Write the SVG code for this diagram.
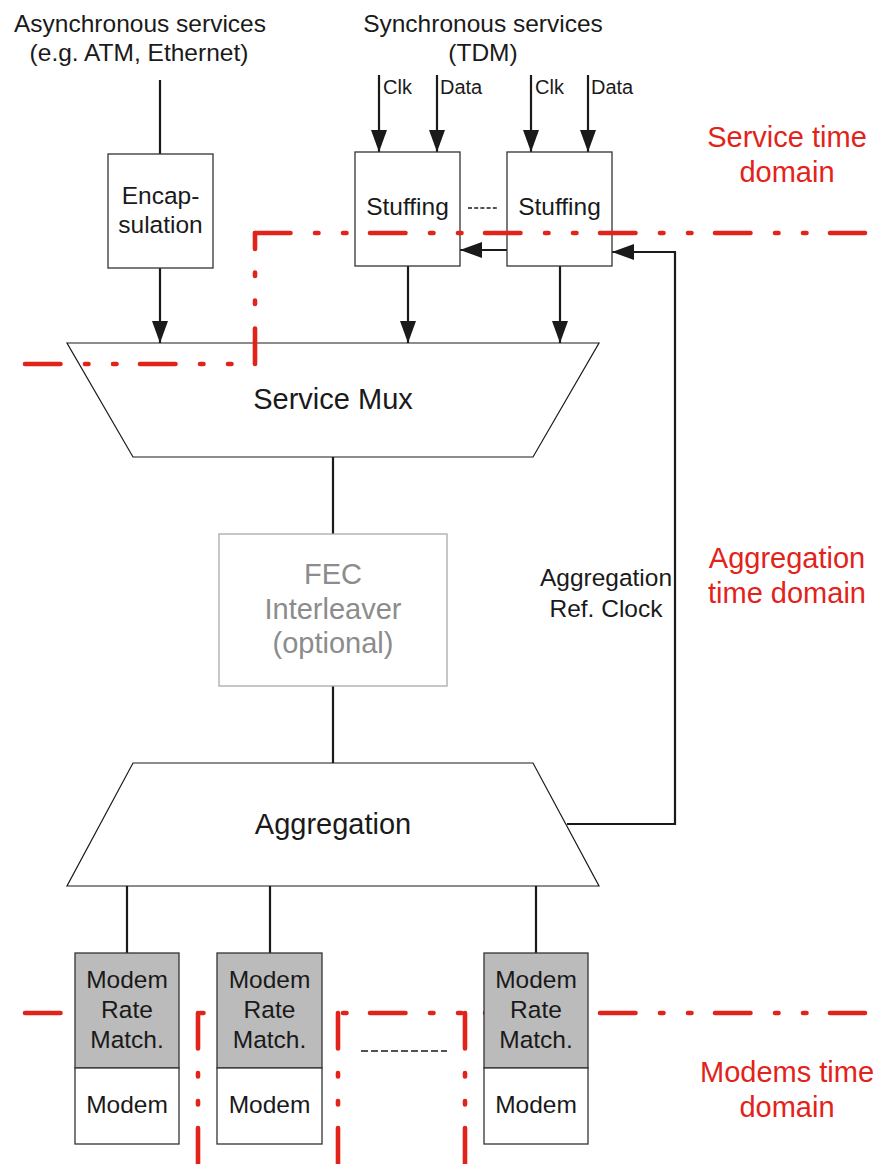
<svg xmlns="http://www.w3.org/2000/svg" width="880" height="1164" viewBox="0 0 880 1164">
  <style>
    text { font-family: "Liberation Sans", Arial, sans-serif; fill: #1a1a1a; text-anchor: middle; }
    .lbl { font-size: 24.5px; }
    .big { font-size: 29px; }
    .small { font-size: 20px; text-anchor: start; }
    .dom { font-size: 29px; fill: #e2231a; }
    .gray { fill: #8c8c8c; }
    .box { fill: #ffffff; stroke: #333333; stroke-width: 1.3; }
    .rm { fill: #bbbbbb; stroke: #333333; stroke-width: 1.3; }
    .fec { fill: #ffffff; stroke: #aaaaaa; stroke-width: 1.3; }
    .trap { fill: #ffffff; stroke: #1a1a1a; stroke-width: 1.2; }
    .wire { fill: none; stroke: #1a1a1a; stroke-width: 2.2; }
    .arrow { fill: none; stroke: #1a1a1a; stroke-width: 2.2; marker-end: url(#head); }
    .dots { fill: none; stroke: #1a1a1a; stroke-width: 1.3; }
    .domline { fill: none; stroke: #e2231a; stroke-width: 4.6; stroke-linecap: round;
               stroke-dasharray: 35.5 24.5 3.5 24.5 3.5 23.5; }
  </style>
  <defs>
    <marker id="head" markerUnits="userSpaceOnUse" markerWidth="22" markerHeight="16"
            refX="22" refY="8" orient="auto">
      <path d="M0,0 L22,8 L0,16 Z" fill="#1a1a1a"/>
    </marker>
  </defs>

  <rect width="880" height="1164" fill="#ffffff"/>

  <!-- service inputs -->
  <g id="async-label">
    <text class="lbl" x="140" y="32">Asynchronous services</text>
    <text class="lbl" x="139" y="61">(e.g. ATM, Ethernet)</text>
  </g>
  <g id="sync-label">
    <text class="lbl" x="483" y="32">Synchronous services</text>
    <text class="lbl" x="483" y="61">(TDM)</text>
  </g>

  <!-- modem-side domain boundaries (drawn beneath the modem blocks) -->
  <g id="modem-domain-lines">
    <path class="domline" d="M25,1013 H865"/>
    <path class="domline" d="M198,1013 V1166"/>
    <path class="domline" d="M338,1013 V1166"/>
    <path class="domline" d="M465,1013 V1166"/>
  </g>

  <g id="connectors">
    <!-- service inputs -->
    <path class="wire" d="M160,80 V154"/>
    <path class="arrow" d="M379,75 V152"/>
    <path class="arrow" d="M437,75 V152"/>
    <path class="arrow" d="M531,75 V152"/>
    <path class="arrow" d="M588,75 V152"/>
    <!-- into the service mux -->
    <path class="arrow" d="M160,268 V343"/>
    <path class="arrow" d="M408,266 V343"/>
    <path class="arrow" d="M560,266 V343"/>
    <!-- clock chaining between stuffing blocks -->
    <path class="arrow" d="M507,250 H460"/>
    <!-- aggregation reference clock loop -->
    <path class="arrow" d="M567,824 H675 V252 H612"/>
    <!-- main chain -->
    <path class="wire" d="M333,457 V534"/>
    <path class="wire" d="M333,686 V763"/>
    <!-- to modems -->
    <path class="wire" d="M127,886 V953"/>
    <path class="wire" d="M270,886 V953"/>
    <path class="wire" d="M536,886 V953"/>
  </g>

  <g id="input-labels">
    <text class="small" x="383" y="94">Clk</text>
    <text class="small" x="440" y="94">Data</text>
    <text class="small" x="535" y="94">Clk</text>
    <text class="small" x="591" y="94">Data</text>
  </g>

  <g id="encapsulation">
    <rect class="box" x="108" y="154" width="105" height="114"/>
    <text class="lbl" x="160.5" y="204">Encap-</text>
    <text class="lbl" x="160.5" y="233">sulation</text>
  </g>

  <g id="stuffing-1">
    <rect class="box" x="355" y="152" width="105" height="114"/>
    <text class="lbl" x="407.5" y="215">Stuffing</text>
  </g>
  <g id="stuffing-more">
    <path class="dots" d="M468,208 H497" stroke-dasharray="4 2.2"/>
  </g>
  <g id="stuffing-2">
    <rect class="box" x="507" y="152" width="105" height="114"/>
    <text class="lbl" x="559.5" y="215">Stuffing</text>
  </g>

  <g id="service-mux">
    <path class="trap" d="M67,343 H599 L533,457 H133 Z"/>
    <text class="big" x="333" y="409">Service Mux</text>
  </g>

  <g id="fec-interleaver">
    <rect class="fec" x="219" y="534" width="228" height="152"/>
    <text class="big gray" x="333" y="584">FEC</text>
    <text class="big gray" x="333" y="619">Interleaver</text>
    <text class="big gray" x="333" y="653">(optional)</text>
  </g>

  <g id="ref-clock-label">
    <text class="lbl" x="606" y="586">Aggregation</text>
    <text class="lbl" x="606" y="617">Ref. Clock</text>
  </g>

  <g id="aggregation">
    <path class="trap" d="M133,763 H533 L599,886 H67 Z"/>
    <text class="big" x="333" y="834">Aggregation</text>
  </g>

  <g id="modem-1">
    <rect class="rm" x="75" y="953" width="104" height="115"/>
    <rect class="box" x="75" y="1068" width="104" height="76"/>
    <text class="lbl" x="127" y="988">Modem</text>
    <text class="lbl" x="127" y="1018">Rate</text>
    <text class="lbl" x="127" y="1048">Match.</text>
    <text class="lbl" x="127" y="1113">Modem</text>
  </g>
  <g id="modem-2">
    <rect class="rm" x="217" y="953" width="105" height="115"/>
    <rect class="box" x="217" y="1068" width="105" height="76"/>
    <text class="lbl" x="269.5" y="988">Modem</text>
    <text class="lbl" x="269.5" y="1018">Rate</text>
    <text class="lbl" x="269.5" y="1048">Match.</text>
    <text class="lbl" x="269.5" y="1113">Modem</text>
  </g>
  <g id="modem-more">
    <path class="dots" d="M361,1051 H447" stroke-width="1.6" stroke-dasharray="7 3"/>
  </g>
  <g id="modem-n">
    <rect class="rm" x="484" y="953" width="104" height="115"/>
    <rect class="box" x="484" y="1068" width="104" height="76"/>
    <text class="lbl" x="536" y="988">Modem</text>
    <text class="lbl" x="536" y="1018">Rate</text>
    <text class="lbl" x="536" y="1048">Match.</text>
    <text class="lbl" x="536" y="1113">Modem</text>
  </g>

  <!-- service / aggregation domain boundary (drawn over the blocks) -->
  <g id="service-domain-lines">
    <path class="domline" d="M25,364 H255"/>
    <path class="domline" d="M255,364 V233"/>
    <path class="domline" d="M255,233 H865"/>
  </g>

  <g id="domain-labels">
    <text class="dom" x="787" y="147">Service time</text>
    <text class="dom" x="787" y="182">domain</text>
    <text class="dom" x="787" y="568">Aggregation</text>
    <text class="dom" x="787" y="603">time domain</text>
    <text class="dom" x="787" y="1082">Modems time</text>
    <text class="dom" x="787" y="1117">domain</text>
  </g>
</svg>
